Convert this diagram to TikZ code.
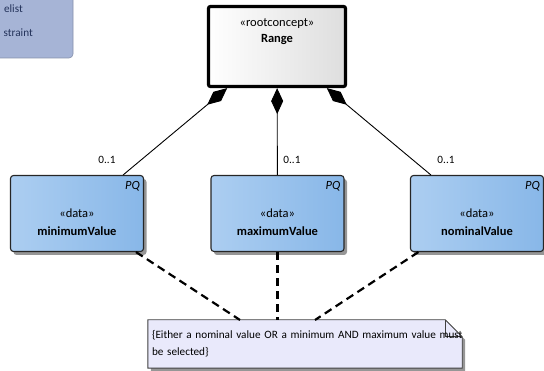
\documentclass[tikz,border=0pt]{standalone}
\usepackage{fontspec}
\setmainfont{Carlito}
\usepackage{xcolor}
\usepackage{tikz}
\usetikzlibrary{shapes,arrows.meta,positioning,calc,backgrounds}

\definecolor{boxleft}{RGB}{172,206,241}
\definecolor{boxright}{RGB}{136,183,232}
\definecolor{notefill}{RGB}{233,233,251}
\definecolor{legendfill}{RGB}{166,180,214}
\definecolor{legendtext}{RGB}{35,50,90}
\definecolor{shadowgray}{RGB}{150,150,150}

\begin{document}
\begin{tikzpicture}[x=1pt,y=-1pt,
        rootbox/.style={draw=black, line width=3.2pt, rounded corners=2pt,
            left color=white, right color=black!13,
            minimum width=137, minimum height=80,
            label={[boxtext, anchor=north, yshift=-10pt]north:«rootconcept»\\\textbf{#1}}},
        databox/.style={draw=black!85, line width=1.1pt, rounded corners=3pt,
            left color=boxleft, right color=boxright,
            preaction={fill=shadowgray, transform canvas={xshift=3pt, yshift=-3.5pt}},
            minimum width=133, minimum height=76,
            label={[pq]north east:PQ},
            label={[datatext]center:«data»\\\textbf{#1}}},
        boxtext/.style={align=center, font=\fontsize{12.5}{16}\selectfont},
        datatext/.style={align=center, yshift=-8.5pt, font=\fontsize{12.5}{18}\selectfont},
        pq/.style={anchor=north east, xshift=-3pt, yshift=-5pt, inner sep=1pt,
            font=\fontsize{12.5}{14}\itshape},
        mult/.style={font=\fontsize{11.2}{13}\selectfont, inner sep=1pt},
        comp/.style={line width=0.9pt, {Diamond[length=26pt,width=12pt]}-},
        dashline/.style={line width=2.2pt, dash pattern=on 8pt off 5pt},
        notetext/.style={text width=306, align=left, inner xsep=4, minimum height=48,
            font=\fontsize{11.2}{17}\selectfont},
        notebox/.style={draw=black!75, line width=0.9pt, fill=notefill,
            preaction={fill=shadowgray, transform canvas={xshift=3pt, yshift=-3pt}}},
        legendtxt/.style={anchor=base east, text=legendtext, inner sep=0pt,
            font=\fontsize{11.2}{13}\selectfont}]

    \useasboundingbox (0,0) rectangle (544,371);
    \clip (0,0) rectangle (544,371);

    % legend box, cut by the frame
    \draw[legendfill!80!black, fill=legendfill, rounded corners=4pt, line width=0.6pt]
        (-30,-10) rectangle (73,58);
    \node[legendtxt] (lg1) at (23,13) {elist};
    \node[legendtxt] (lg2) at (33,37) {straint};

    % elements
    \node[rootbox=Range] (range) at (277,46.5) {};
    \node[databox=minimumValue] (minv) at (77,213.5) {};
    \node[databox=maximumValue] (maxv) at (277.5,213.5) {};
    \node[databox=nominalValue] (nomv) at (477,213.5) {};

    % compositions
    \draw[comp] (range) -- (minv);
    \draw[comp] (range) -- (maxv);
    \draw[comp] (range) -- (nomv);
    \node[mult] (m1) at (107,160) {0..1};
    \node[mult] (m2) at (292,160) {0..1};
    \node[mult] (m3) at (446,160) {0..1};

    % constraint note
    \node[notetext] (note) at (305,344)
        {\mbox{\{Either a nominal value OR a minimum AND maximum value must}\\be selected\}};
    \begin{scope}[on background layer]
        \draw[notebox] (note.north west) -- ($(note.north east)+(-17,0)$)
            -- ($(note.north east)+(0,17)$) -- (note.south east)
            -- (note.south west) -- cycle;
        \draw[black!75, line width=0.8pt] ($(note.north east)+(-17,0)$)
            -- ($(note.north east)+(-17,17)$) -- ($(note.north east)+(0,17)$);
    \end{scope}
    \coordinate (n1) at (240,320);
    \coordinate (n2) at (277.5,320);
    \coordinate (n3) at (315,320);
    \draw[dashline] (minv) -- (n1);
    \draw[dashline] (maxv) -- (n2);
    \draw[dashline] (nomv) -- (n3);
\end{tikzpicture}
\end{document}
